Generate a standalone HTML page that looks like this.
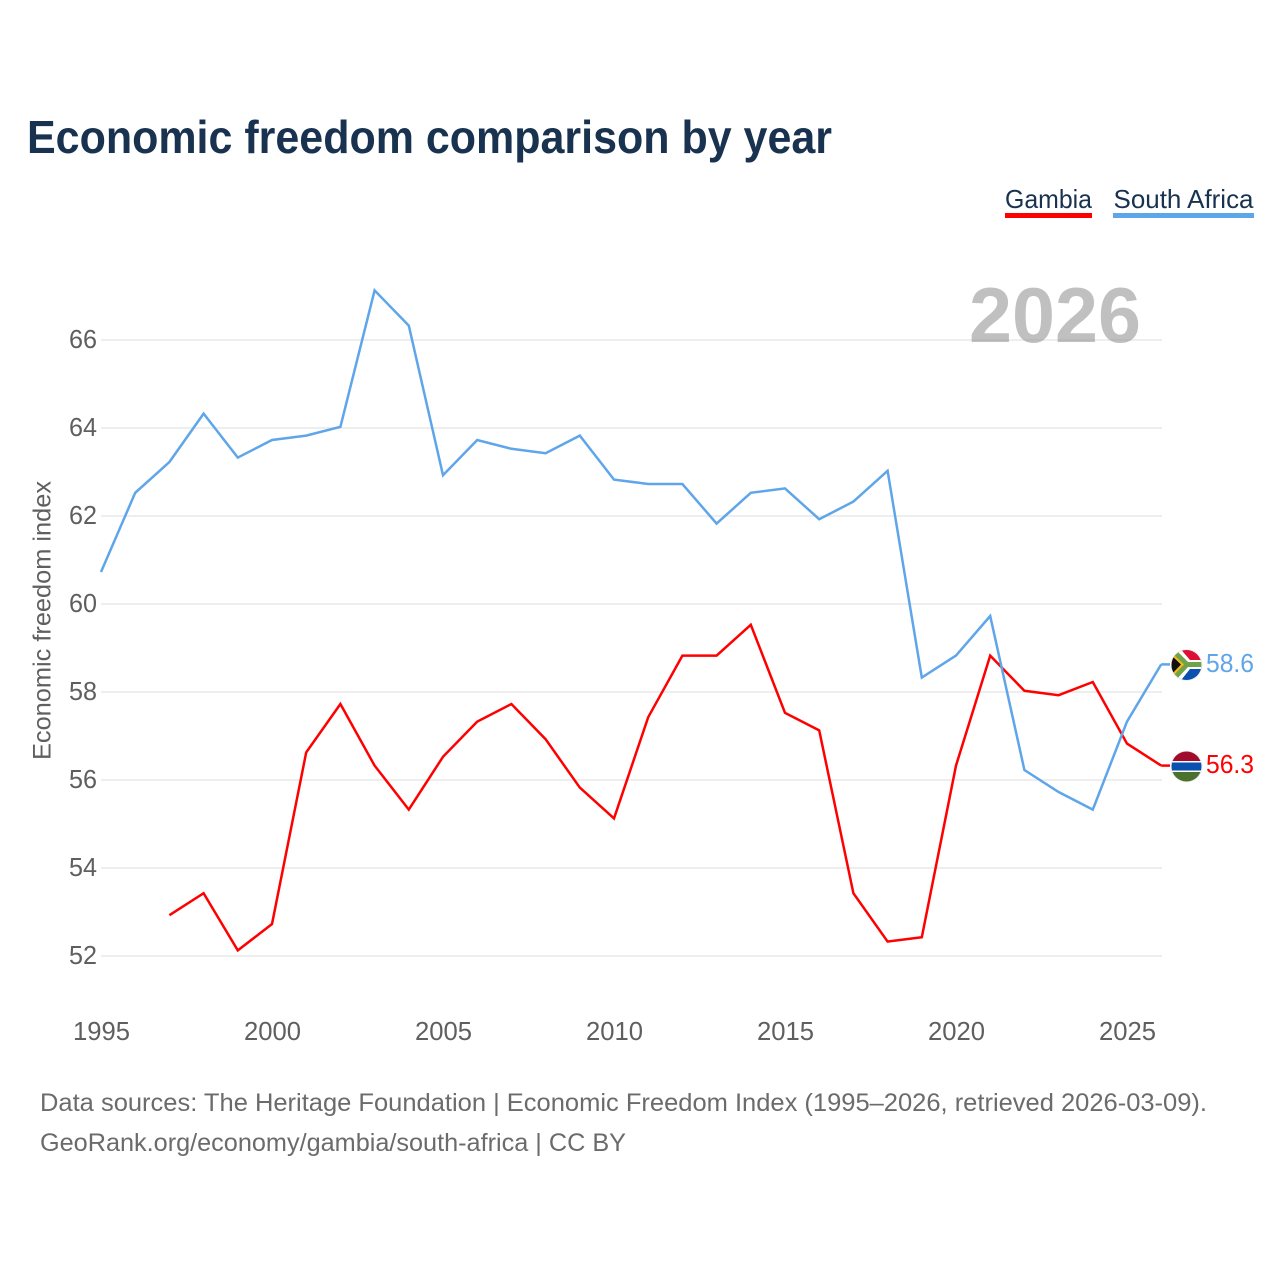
<!DOCTYPE html>
<html lang="en">
<head>
<meta charset="utf-8">
<title>Economic freedom comparison by year</title>
<style>
html,body{margin:0;padding:0;background:#fff;}
svg{display:block;}
text{font-family:"Liberation Sans",sans-serif;}
</style>
</head>
<body>
<svg id="chart" xmlns="http://www.w3.org/2000/svg" width="1280" height="1280" viewBox="0 0 1280 1280">
  <defs>
    <clipPath id="flag-clip-sa"><circle cx="1186.500" cy="665" r="15"/></clipPath>
    <clipPath id="flag-clip-gm"><circle cx="1186.500" cy="766.500" r="15"/></clipPath>
  </defs>
  <rect width="1280" height="1280" fill="#fff"/>
  <text x="27" y="153" font-size="46" font-weight="700" fill="#18324f" textLength="805" lengthAdjust="spacingAndGlyphs">Economic freedom comparison by year</text>

  <g>
    <g>
      <text x="1005" y="208" font-size="26" fill="#18324f" textLength="87" lengthAdjust="spacingAndGlyphs">Gambia</text>
      <rect x="1005" y="213" width="87" height="5" fill="#ff0000"/>
    </g>
    <g>
      <text x="1113.500" y="208" font-size="26" fill="#18324f" textLength="140" lengthAdjust="spacingAndGlyphs">South Africa</text>
      <rect x="1113" y="213" width="141" height="5" fill="#5fa5ea"/>
    </g>
  </g>

  <g id="grid"></g>
  <g id="y-ticks"></g>
  <g id="x-ticks"></g>
  <text transform="translate(50.500 620.500) rotate(-90)" text-anchor="middle" font-size="25" fill="#5f5f5f" textLength="279" lengthAdjust="spacingAndGlyphs">Economic freedom index</text>

  <text x="969" y="342" font-size="78" font-weight="700" fill="#8c8c8c" fill-opacity="0.55" textLength="172" lengthAdjust="spacingAndGlyphs">2026</text>

  <g id="series"></g>

  <g>
    <circle cx="1186.500" cy="665" r="16" fill="#f1f1f1"/>
    <g clip-path="url(#flag-clip-sa)">
      <rect x="1170" y="649" width="34" height="16" fill="#de0f35"/>
      <rect x="1170" y="665" width="34" height="17" fill="#0a50ae"/>
      <polygon points="1170,646 1178,646 1190,660 1204,660 1204,669 1190,669 1178,684 1170,684" fill="#fff"/>
      <polygon points="1170,649 1175,649 1188,662 1204,662 1204,667 1188,667 1175,681 1170,681" fill="#6fa348"/>
      <polygon points="1170,651 1184,664.500 1170,679" fill="#f4b81c"/>
      <polygon points="1170,654 1181,664.500 1170,676" fill="#111"/>
    </g>
  </g>
  <g>
    <circle cx="1186.500" cy="766.500" r="16" fill="#f1f1f1"/>
    <g clip-path="url(#flag-clip-gm)">
      <rect x="1170" y="751" width="34" height="10" fill="#a00c2c"/>
      <rect x="1170" y="761" width="34" height="1.500" fill="#fff"/>
      <rect x="1170" y="762.500" width="34" height="8" fill="#0a50ae"/>
      <rect x="1170" y="770.500" width="34" height="1.500" fill="#fff"/>
      <rect x="1170" y="772" width="34" height="11" fill="#4b7130"/>
    </g>
  </g>
  <text x="1206" y="672" font-size="26" fill="#5fa5ea" textLength="48" lengthAdjust="spacingAndGlyphs">58.6</text>
  <text x="1206" y="773" font-size="26" fill="#ff0000" textLength="48" lengthAdjust="spacingAndGlyphs">56.3</text>

  <text x="40" y="1111" font-size="25" fill="#6b6b6b" textLength="1167" lengthAdjust="spacingAndGlyphs">Data sources: The Heritage Foundation | Economic Freedom Index (1995–2026, retrieved 2026-03-09).</text>
  <a><text x="40" y="1151" font-size="25" fill="#6b6b6b" textLength="586" lengthAdjust="spacingAndGlyphs">GeoRank.org/economy/gambia/south-africa | CC BY</text></a>
</svg>
<script>
const years = [1995,1996,1997,1998,1999,2000,2001,2002,2003,2004,2005,2006,2007,2008,2009,2010,2011,2012,2013,2014,2015,2016,2017,2018,2019,2020,2021,2022,2023,2024,2025,2026];
const gambiaValues = [null,null,52.9,53.4,52.1,52.7,56.6,57.7,56.3,55.3,56.5,57.3,57.7,56.9,55.8,55.1,57.4,58.8,58.8,59.5,57.5,57.1,53.4,52.3,52.4,56.3,58.8,58.0,57.9,58.2,56.8,56.3];
const southAfricaValues = [60.7,62.5,63.2,64.3,63.3,63.7,63.8,64.0,67.1,66.3,62.9,63.7,63.5,63.4,63.8,62.8,62.7,62.7,61.8,62.5,62.6,61.9,62.3,63.0,58.3,58.8,59.7,56.2,55.7,55.3,57.3,58.6];
const yTickLabels = [52,54,56,58,60,62,64,66];
const xTickLabels = [1995,2000,2005,2010,2015,2020,2025];

const SVG_NS = 'http://www.w3.org/2000/svg';
function xScale(year) { return 101 + (year - 1995) * 34.2; }
function yScale(value) { return 956 - (value - 52) * 44; }
function lineY(value) { return yScale(value) - 1.2; }

const gridGroup = document.getElementById('grid');
const yTickGroup = document.getElementById('y-ticks');
const xTickGroup = document.getElementById('x-ticks');
const seriesGroup = document.getElementById('series');

yTickLabels.forEach(function (tick) {
  const line = document.createElementNS(SVG_NS, 'line');
  
  
  line.setAttribute('x1', 101);
  line.setAttribute('x2', 1162);
  line.setAttribute('y1', yScale(tick));
  line.setAttribute('y2', yScale(tick));
  line.setAttribute('stroke', '#e9e9e9');
  line.setAttribute('stroke-width', 1.5);
  gridGroup.appendChild(line);

  const label = document.createElementNS(SVG_NS, 'text');
  
  
  label.setAttribute('x', 97);
  label.setAttribute('y', yScale(tick) + 8);
  label.setAttribute('text-anchor', 'end');
  label.setAttribute('font-size', 26);
  label.setAttribute('fill', '#5f5f5f');
  label.setAttribute('textLength', 28);
  label.setAttribute('lengthAdjust', 'spacingAndGlyphs');
  label.textContent = tick;
  yTickGroup.appendChild(label);
});

xTickLabels.forEach(function (tick) {
  const label = document.createElementNS(SVG_NS, 'text');
  
  
  label.setAttribute('x', xScale(tick) + 0.5);
  label.setAttribute('y', 1040);
  label.setAttribute('text-anchor', 'middle');
  label.setAttribute('font-size', 26);
  label.setAttribute('fill', '#5f5f5f');
  label.setAttribute('textLength', 57);
  label.setAttribute('lengthAdjust', 'spacingAndGlyphs');
  label.textContent = tick;
  xTickGroup.appendChild(label);
});

function buildPoints(values) {
  const points = [];
  values.forEach(function (value, i) {
    if (value !== null) {
      points.push(xScale(years[i]).toFixed(1) + ',' + lineY(value).toFixed(1));
    }
  });
  return points.join(' ');
}

const gambiaLine = document.createElementNS(SVG_NS, 'polyline');


gambiaLine.setAttribute('points', buildPoints(gambiaValues));
gambiaLine.setAttribute('fill', 'none');
gambiaLine.setAttribute('stroke', '#ff0000');
gambiaLine.setAttribute('stroke-width', 2.5);
gambiaLine.setAttribute('stroke-linejoin', 'miter');
seriesGroup.appendChild(gambiaLine);

const southAfricaLine = document.createElementNS(SVG_NS, 'polyline');


southAfricaLine.setAttribute('points', buildPoints(southAfricaValues));
southAfricaLine.setAttribute('fill', 'none');
southAfricaLine.setAttribute('stroke', '#5fa5ea');
southAfricaLine.setAttribute('stroke-width', 2.5);
southAfricaLine.setAttribute('stroke-linejoin', 'miter');
seriesGroup.appendChild(southAfricaLine);

const lastIndex = years.length - 1;
const gambiaConnector = document.createElementNS(SVG_NS, 'line');


gambiaConnector.setAttribute('x1', xScale(years[lastIndex]));
gambiaConnector.setAttribute('x2', 1170);
gambiaConnector.setAttribute('y1', lineY(gambiaValues[lastIndex]));
gambiaConnector.setAttribute('y2', lineY(gambiaValues[lastIndex]));
gambiaConnector.setAttribute('stroke', '#ff0000');
gambiaConnector.setAttribute('stroke-width', 2.5);
seriesGroup.appendChild(gambiaConnector);

const southAfricaConnector = document.createElementNS(SVG_NS, 'line');


southAfricaConnector.setAttribute('x1', xScale(years[lastIndex]));
southAfricaConnector.setAttribute('x2', 1170);
southAfricaConnector.setAttribute('y1', lineY(southAfricaValues[lastIndex]));
southAfricaConnector.setAttribute('y2', lineY(southAfricaValues[lastIndex]));
southAfricaConnector.setAttribute('stroke', '#5fa5ea');
southAfricaConnector.setAttribute('stroke-width', 2.5);
seriesGroup.appendChild(southAfricaConnector);
</script>
</body>
</html>
